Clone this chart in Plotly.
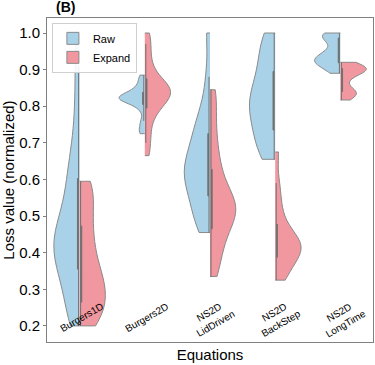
import plotly.graph_objects as go

categories = ["Burgers1D", "Burgers2D", "NS2D LidDriven", "NS2D BackStep", "NS2D LongTime"]
tick_labels = ["Burgers1D", "Burgers2D", "NS2D<br>LidDriven", "NS2D<br>BackStep", "NS2D<br>LongTime"]

raw_burgers1d = [0.20, 0.22, 0.25, 0.28, 0.31, 0.33, 0.35, 0.37, 0.38, 0.40, 0.41, 0.42, 0.44,
                 0.45, 0.46, 0.48, 0.50, 0.52, 0.55, 0.58, 0.61, 0.64, 0.68, 0.74, 0.82, 0.91, 1.00]
raw_burgers2d = [0.725, 0.74, 0.76, 0.79, 0.805, 0.812, 0.816, 0.819, 0.821, 0.823, 0.825,
                 0.828, 0.832, 0.838, 0.845, 0.855, 0.87, 0.885]
raw_lid = [0.455, 0.47, 0.50, 0.52, 0.54, 0.56, 0.58, 0.60, 0.61, 0.62, 0.63, 0.64, 0.66,
           0.68, 0.70, 0.72, 0.74, 0.77, 0.80, 0.88, 1.00]
raw_backstep = [0.655, 0.67, 0.69, 0.71, 0.73, 0.75, 0.77, 0.79, 0.80, 0.81, 0.82, 0.84,
                0.86, 0.88, 0.90, 0.93, 0.96, 0.98, 1.00]
raw_longtime = [0.89, 0.905, 0.915, 0.92, 0.925, 0.93, 0.935, 0.945, 0.96, 0.985, 0.99, 0.995, 1.0]

exp_burgers1d = [0.20, 0.21, 0.23, 0.25, 0.26, 0.28, 0.29, 0.31, 0.33, 0.34, 0.36, 0.39,
                 0.42, 0.45, 0.48, 0.52, 0.55, 0.58, 0.595]
exp_burgers2d = [0.665, 0.70, 0.73, 0.76, 0.78, 0.795, 0.805, 0.815, 0.82, 0.828, 0.835,
                 0.84, 0.845, 0.85, 0.858, 0.865, 0.875, 0.89, 0.91, 0.94, 0.97, 1.00]
exp_lid = [0.335, 0.37, 0.40, 0.43, 0.45, 0.47, 0.49, 0.50, 0.51, 0.52, 0.53, 0.54, 0.55,
           0.57, 0.59, 0.62, 0.65, 0.69, 0.74, 0.80, 0.845]
exp_backstep = [0.325, 0.34, 0.36, 0.38, 0.39, 0.40, 0.41, 0.415, 0.42, 0.43, 0.44, 0.45,
                0.47, 0.50, 0.54, 0.59, 0.675]
exp_longtime = [0.817, 0.828, 0.835, 0.84, 0.85, 0.87, 0.885, 0.892, 0.897, 0.90, 0.903,
                0.908, 0.915, 0.92]

raw_series = [raw_burgers1d, raw_burgers2d, raw_lid, raw_backstep, raw_longtime]
exp_series = [exp_burgers1d, exp_burgers2d, exp_lid, exp_backstep, exp_longtime]
raw_bw = [0.06, 0.012, 0.05, 0.05, 0.016]
exp_bw = [0.05, 0.025, 0.045, 0.035, 0.0125]

RAW_COLOR = "#A9D2E8"
EXP_COLOR = "#F1979F"
EDGE = "#8a8a8a"
BOXC = "#707070"
FONT = "Liberation Sans, Arial"

fig = go.Figure()
for name, series, bws, side, color in [("Raw", raw_series, raw_bw, "negative", RAW_COLOR),
                                       ("Expand", exp_series, exp_bw, "positive", EXP_COLOR)]:
    for i, (cat, vals, bw) in enumerate(zip(categories, series, bws)):
        fig.add_trace(go.Violin(
            x=[cat] * len(vals), y=vals, name=name, legendgroup=name,
            showlegend=(i == 0), side=side, spanmode="hard", bandwidth=bw,
            width=0.79, scalemode="width", points=False,
            fillcolor=color, opacity=1, line=dict(color=EDGE, width=1),
            box=dict(visible=True, width=0.09, fillcolor=BOXC, line=dict(color=BOXC, width=1)),
            meanline=dict(visible=False), hoverinfo="skip",
        ))

for cat, lab in zip(categories, tick_labels):
    fig.add_annotation(x=cat, y=0.075, xref="x", yref="paper", text=lab, showarrow=False,
                       textangle=-30, xanchor="center", yanchor="middle", xshift=2,
                       font=dict(family=FONT, size=10, color="black"))

fig.add_annotation(x=0.02, y=1.0, xref="paper", yref="paper", yanchor="bottom", xanchor="left",
                   text="<b>(B)</b>", showarrow=False, yshift=1,
                   font=dict(family=FONT, size=14, color="black"))

fig.update_layout(
    width=375, height=365,
    margin=dict(l=47, r=2, t=18, b=23),
    paper_bgcolor="white", plot_bgcolor="white",
    violinmode="overlay",
    font=dict(family=FONT, color="black"),
    legend=dict(x=0.015, y=0.985, xanchor="left", yanchor="top", bgcolor="rgba(255,255,255,0.9)",
                bordercolor="#d0d0d0", borderwidth=1, font=dict(size=11), traceorder="normal",
                tracegroupgap=0, itemwidth=30),
    xaxis=dict(type="category", categoryorder="array", categoryarray=categories,
               range=[-0.5, 4.5], showticklabels=False, ticks="", automargin=False,
               showline=True, linecolor="#808080", linewidth=1, mirror=True, showgrid=False,
               zeroline=False,
               title=dict(text="Equations", font=dict(size=15), standoff=7)),
    yaxis=dict(range=[0.156, 1.041], tickvals=[0.2, 0.3, 0.4, 0.5, 0.6, 0.7, 0.8, 0.9, 1.0],
               tickformat=".1f", ticks="outside", ticklen=3, tickcolor="#808080", automargin=False,
               tickfont=dict(size=15), showline=True, linecolor="#808080", linewidth=1,
               mirror=True, showgrid=False, zeroline=False,
               title=dict(text="Loss value (normalized)", font=dict(size=15), standoff=3)),
)

fig.write_html("out.html", config={"displayModeBar": False},
               post_script="document.body.style.margin='0';")
